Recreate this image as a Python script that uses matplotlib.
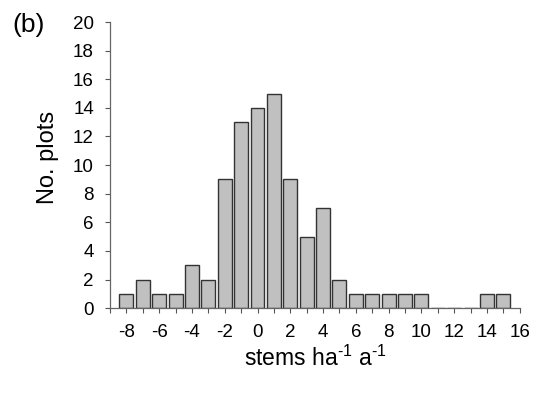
import numpy as np
import matplotlib.pyplot as plt

plt.rcParams['font.family'] = ['Liberation Sans', 'DejaVu Sans']
plt.rcParams['axes.unicode_minus'] = False
plt.rcParams['mathtext.fontset'] = 'custom'
plt.rcParams['mathtext.rm'] = 'Liberation Sans'

# histogram bin centres and counts
bins = [-8, -7, -6, -5, -4, -3, -2, -1, 0, 1, 2, 3, 4, 5, 6, 7, 8, 9, 10, 11, 12, 13, 14, 15]
counts = [1, 2, 1, 1, 3, 2, 9, 13, 14, 15, 9, 5, 7, 2, 1, 1, 1, 1, 1, 0, 0, 0, 1, 1]
xticks = list(range(-8, 17, 2))
yticks = list(range(0, 21, 2))

fig = plt.figure(figsize=(5.5, 3.93), dpi=100)
ax = fig.add_axes([0.2, 0.216, 0.745, 0.728])

ax.bar(bins, counts, width=0.85, color='#c0c0c0', edgecolor='#333333', linewidth=1.0)

ax.set_xlim(-9, 16)
ax.set_ylim(0, 20)
ax.set_xticks(xticks)
ax.set_xticks(range(-9, 17), minor=True)
ax.set_yticks(yticks)
ax.tick_params(axis='both', labelsize=13.5, direction='out', length=3.6, color='#555555', width=0.8)
ax.tick_params(axis='x', which='minor', length=3.6, color='#555555', width=0.8)
ax.tick_params(axis='x', pad=8)
ax.tick_params(axis='y', pad=8)
for s in ['top', 'right']:
    ax.spines[s].set_visible(False)
for s in ['left', 'bottom']:
    ax.spines[s].set_color('#666666')
    ax.spines[s].set_linewidth(0.9)

fig.text(48 / 550, 1 - 157 / 393, 'No. plots', fontsize=17, rotation=90, ha='center', va='center')
ax.set_xlabel(r'stems ha$^{\text{-1}}$ a$^{\text{-1}}$', fontsize=16.5, labelpad=3)
fig.text(12 / 550, 1 - 25 / 393, '(b)', fontsize=19, va='center')

fig.savefig('out.png')
